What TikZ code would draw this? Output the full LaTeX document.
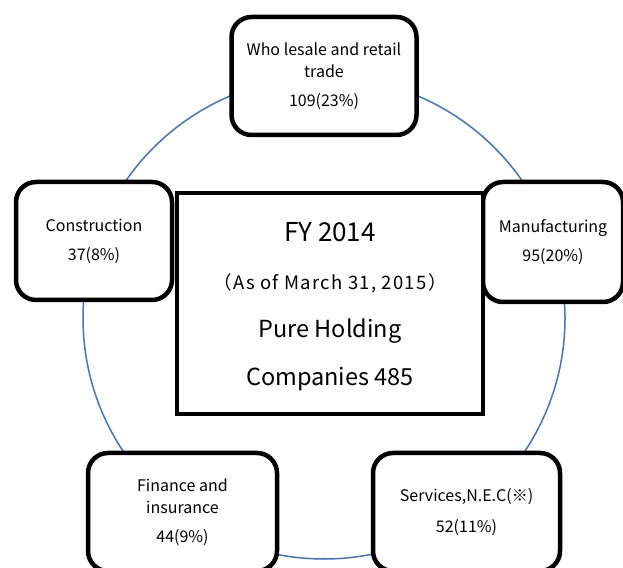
\documentclass[tikz,border=0pt]{standalone}
\usepackage{fontspec}
\setmainfont{Noto Sans CJK JP}
\usepackage{tikz}
\definecolor{ringblue}{RGB}{68,114,196}

\begin{document}
\begin{tikzpicture}[x=1pt, y=1pt,
		sector/.style={draw, fill=white, line width=4.5pt, rounded corners=20pt, align=center, inner sep=0pt, font=\fontsize{16}{22}\selectfont},
		total/.style={draw, fill=white, line width=4.5pt, align=center, inner sep=0pt, font=\fontsize{23.5}{48}\selectfont},
		ring/.style={draw=ringblue, line width=1.5pt}]
		\useasboundingbox (0,0) rectangle (623,567);
		
		\draw [ring] (324,249) circle (241);
		
		\node [sector, minimum width=185pt, minimum height=118pt] (trade) at (324,491) {Who lesale and retail\\trade\\[7pt]109(23\%)};
		\node [sector, minimum width=156pt, minimum height=118pt] (constr) at (94,326) {Construction\\[7pt]37(8\%)};
		\node [sector, minimum width=140pt, minimum height=120pt] (manuf) at (553,325) {Manufacturing\\[7pt]95(20\%)};
		\node [sector, minimum width=189pt, minimum height=118pt] (finance) at (182.5,55) {Finance and\\insurance\\[7pt]44(9\%)};
		\node [sector, minimum width=187pt, minimum height=118pt] (services) at (466.5,55) {Services,N.E.C(※)\\[9pt]52(11\%)};
		
		\node [total, minimum width=306pt, minimum height=221pt, text depth=0pt] (holding) at (330,263.5) {{\fontsize{26}{48}\selectfont FY 2014}\\{\fontsize{18.5}{48}\selectfont\addfontfeatures{LetterSpace=7}（As of March 31, 2015）}\\Pure Holding\\Companies 485};

	\end{tikzpicture}
\end{document}
